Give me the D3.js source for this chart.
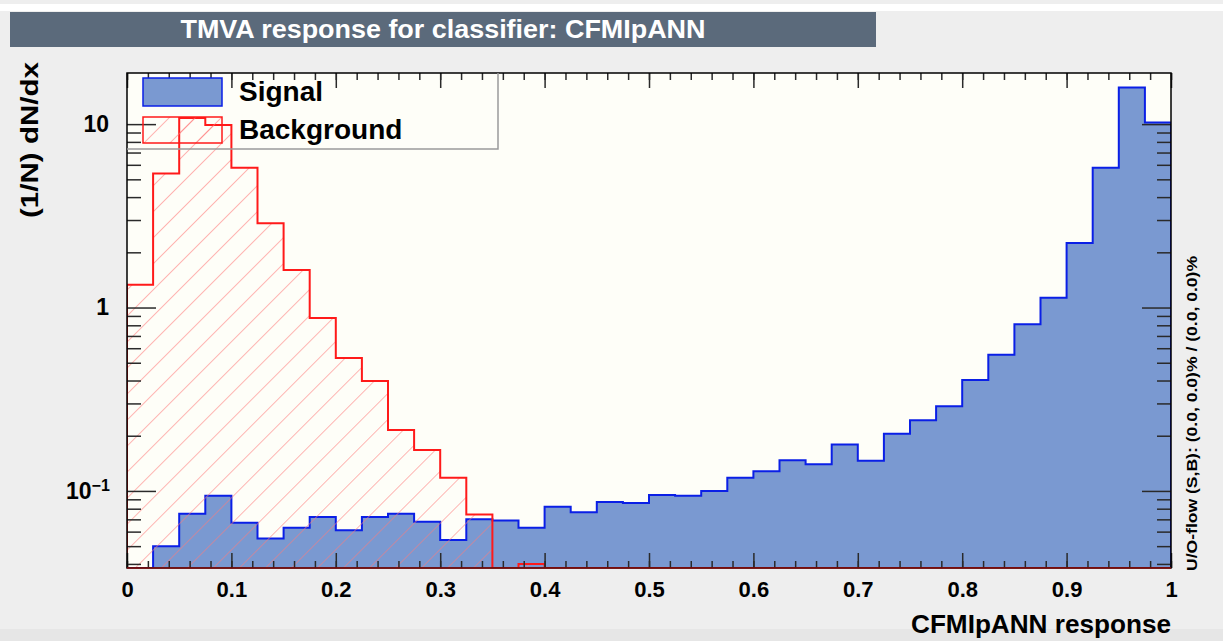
<!DOCTYPE html>
<html>
<head>
<meta charset="utf-8">
<script src="https://cdn.jsdelivr.net/npm/d3@7"></script>
<style>
  html, body { margin: 0; padding: 0; background: #eeeeee; }
  svg { display: block; font-family: "Liberation Sans", Arial, Helvetica, sans-serif; font-weight: bold; }
</style>
</head>
<body>
<div id="chart"></div>
<script>
// histogram: 40 bins over [0, 1]
const xRange = [0, 1]
const binCount = 40
const binWidth = 0.025

// (1/N) dN/dx per bin
const signal = [0, 0.050, 0.075, 0.094, 0.067, 0.055, 0.063, 0.072, 0.061, 0.072,
  0.075, 0.068, 0.054, 0.070, 0.069, 0.063, 0.082, 0.0765, 0.087, 0.086,
  0.095, 0.094, 0.100, 0.118, 0.128, 0.147, 0.140, 0.179, 0.146, 0.205,
  0.243, 0.290, 0.403, 0.553, 0.811, 1.13, 2.25, 5.78, 15.85, 10.2]
const background = [1.33, 5.38, 10.8, 9.88, 5.78, 2.88, 1.60, 0.877, 0.531, 0.398,
  0.215, 0.167, 0.118, 0.0743, 0, 0.0399, 0, 0, 0, 0,
  0, 0, 0, 0, 0, 0, 0, 0, 0, 0,
  0, 0, 0, 0, 0, 0, 0, 0, 0, 0]

const xMajor = [0, 0.1, 0.2, 0.3, 0.4, 0.5, 0.6, 0.7, 0.8, 0.9, 1]
const xMinor = d3.range(0, 51).map(i => i / 50)
const yMajor = [0.1, 1, 10]
const yMinor = [0.04, 0.05, 0.06, 0.07, 0.08, 0.09, 0.2, 0.3, 0.4, 0.5, 0.6, 0.7, 0.8, 0.9,
  2, 3, 4, 5, 6, 7, 8, 9]
const yDomain = [0.038, 19]

const title = 'TMVA response for classifier: CFMIpANN'
const xTitle = 'CFMIpANN response'
const yTitle = '(1/N) dN/dx'
const flowText = 'U/O-flow (S,B): (0.0, 0.0)% / (0.0, 0.0)%'
const legendItems = ['Signal', 'Background']

const width = 1223, height = 641
const frame = { left: 127, right: 1171, top: 73, bottom: 568 }

const svg = d3.select('#chart').append('svg')
  .attr('width', width)
  .attr('height', height)

// canvas
svg.append('rect').attr('x', 0).attr('y', 4).attr('width', width).attr('height', 7).attr('fill', '#ffffff')
svg.append('rect').attr('x', 0).attr('y', 629).attr('width', width).attr('height', 12).attr('fill', '#e6e6e6')

const defs = svg.append('defs')
defs.append('pattern')
    .attr('id', 'hatch')
    .attr('patternUnits', 'userSpaceOnUse')
    .attr('width', 18.4).attr('height', 18.4)
    .attr('patternTransform', 'rotate(45)')
  .append('line')
    .attr('x1', 0).attr('y1', 0).attr('x2', 0).attr('y2', 18.4)
    .attr('stroke', '#ff7a7a').attr('stroke-width', 1.1)
defs.append('clipPath').attr('id', 'plotClip')
  .append('rect')
    .attr('x', frame.left).attr('y', frame.top)
    .attr('width', frame.right - frame.left).attr('height', frame.bottom - frame.top)

// title box
svg.append('rect')
  .attr('x', 10).attr('y', 12).attr('width', 866).attr('height', 35)
  .attr('fill', '#5b6a7b')
svg.append('text')
  .attr('x', 443).attr('y', 38)
  .attr('text-anchor', 'middle')
  .attr('fill', '#ffffff')
  .attr('font-size', 25)
  .attr('textLength', 525).attr('lengthAdjust', 'spacingAndGlyphs')
  .text(title)

// scales
const x = d3.scaleLinear().domain(xRange).range([frame.left, frame.right])
const y = d3.scaleLog().domain(yDomain).range([frame.bottom, frame.top])

svg.append('rect')
  .attr('x', frame.left).attr('y', frame.top)
  .attr('width', frame.right - frame.left).attr('height', frame.bottom - frame.top)
  .attr('fill', '#fefef8')

// step outline of a histogram, empty bins sit on the bottom edge
function stepPath(values) {
  const yv = v => y(Math.max(v, yDomain[0]))
  let d = `M${x(xRange[0])},${y(yDomain[0])}`
  values.forEach((v, i) => {
    const x0 = x(i * binWidth), x1 = x((i + 1) * binWidth)
    d += `L${x0},${yv(v)}L${x1},${yv(v)}`
  })
  d += `L${x(binCount * binWidth)},${y(yDomain[0])}`
  return d
}

const plot = svg.append('g').attr('clip-path', 'url(#plotClip)')

plot.append('path')
  .attr('d', stepPath(signal) + 'Z')
  .attr('fill', '#7a99d1')
plot.append('path')
  .attr('d', stepPath(signal))
  .attr('fill', 'none')
  .attr('stroke', '#0a1fe6').attr('stroke-width', 2)

plot.append('path')
  .attr('d', stepPath(background) + 'Z')
  .attr('fill', 'url(#hatch)')
plot.append('path')
  .attr('d', stepPath(background))
  .attr('fill', 'none')
  .attr('stroke', '#ff1a1a').attr('stroke-width', 2)

// axes
const tickColor = '#2a2a2a'
function styleAxis(g) {
  g.attr('font-family', null).attr('font-size', null)
  g.select('.domain').remove()
  g.selectAll('.tick line').attr('stroke', tickColor).attr('stroke-width', 1.5)
  g.selectAll('.tick text').attr('fill', '#000')
}

svg.append('g')
  .attr('transform', `translate(0,${frame.bottom})`)
  .call(d3.axisBottom(x).tickValues(xMinor).tickSize(-7).tickFormat(''))
  .call(styleAxis)
svg.append('g')
  .attr('transform', `translate(0,${frame.bottom})`)
  .call(d3.axisBottom(x).tickValues(xMajor).tickSize(-15).tickPadding(13).tickFormat(d3.format('')))
  .call(styleAxis)
  .call(g => g.selectAll('.tick text').style('font-size', '22px'))
svg.append('g')
  .attr('transform', `translate(0,${frame.top})`)
  .call(d3.axisTop(x).tickValues(xMinor).tickSize(-7).tickFormat(''))
  .call(styleAxis)
svg.append('g')
  .attr('transform', `translate(0,${frame.top})`)
  .call(d3.axisTop(x).tickValues(xMajor).tickSize(-15).tickFormat(''))
  .call(styleAxis)

svg.append('g')
  .attr('transform', `translate(${frame.left},0)`)
  .call(d3.axisLeft(y).tickValues(yMinor).tickSize(-14).tickFormat(''))
  .call(styleAxis)
svg.append('g')
  .attr('transform', `translate(${frame.left},0)`)
  .call(d3.axisLeft(y).tickValues(yMajor).tickSize(-29).tickPadding(18).tickFormat(d => d < 1 ? '' : String(d)))
  .call(styleAxis)
  .call(g => g.selectAll('.tick text').style('font-size', '23px'))
  .call(g => g.selectAll('.tick').filter(d => d < 1).select('text')
    .call(t => {
      t.attr('x', -61).attr('text-anchor', 'start')
      t.append('tspan').text('10')
      t.append('tspan').attr('dy', '-0.5em').style('font-size', '16px').text('\u22121')
    }))
svg.append('g')
  .attr('transform', `translate(${frame.right},0)`)
  .call(d3.axisRight(y).tickValues(yMinor).tickSize(-14).tickFormat(''))
  .call(styleAxis)
svg.append('g')
  .attr('transform', `translate(${frame.right},0)`)
  .call(d3.axisRight(y).tickValues(yMajor).tickSize(-29).tickFormat(''))
  .call(styleAxis)

// frame
svg.append('rect')
  .attr('x', frame.left).attr('y', frame.top)
  .attr('width', frame.right - frame.left).attr('height', frame.bottom - frame.top)
  .attr('fill', 'none').attr('stroke', '#000').attr('stroke-width', 1.5)
svg.append('line')
  .attr('x1', frame.left).attr('x2', frame.right)
  .attr('y1', frame.bottom).attr('y2', frame.bottom)
  .attr('stroke', '#8a1010').attr('stroke-width', 1.5)

// axis titles
svg.append('text')
  .attr('x', frame.right).attr('y', 633)
  .attr('text-anchor', 'end')
  .attr('font-size', 26)
  .attr('textLength', 260).attr('lengthAdjust', 'spacingAndGlyphs')
  .text(xTitle)
svg.append('text')
  .attr('transform', 'translate(38,62) rotate(-90)')
  .attr('text-anchor', 'end')
  .attr('font-size', 24)
  .attr('textLength', 156).attr('lengthAdjust', 'spacingAndGlyphs')
  .text(yTitle)
svg.append('text')
  .attr('transform', 'translate(1197,571) rotate(-90)')
  .attr('text-anchor', 'start')
  .attr('font-size', 15)
  .attr('textLength', 315).attr('lengthAdjust', 'spacingAndGlyphs')
  .text(flowText)

// legend
const legend = svg.append('g')
legend.append('path')
  .attr('d', `M${frame.left},149H498V${frame.top}`)
  .attr('fill', 'none').attr('stroke', '#9a9a9a').attr('stroke-width', 1.5)
legend.append('rect')
  .attr('x', 143).attr('y', 78).attr('width', 79).attr('height', 28)
  .attr('fill', '#7a99d1').attr('stroke', '#0a1fe6').attr('stroke-width', 1.5)
legend.append('rect')
  .attr('x', 143).attr('y', 117).attr('width', 79).attr('height', 26)
  .attr('fill', 'url(#hatch)').attr('stroke', '#ff1a1a').attr('stroke-width', 1.5)
legend.selectAll('text.item')
  .data(legendItems)
  .join('text')
    .attr('class', 'item')
    .attr('x', 239)
    .attr('y', (d, i) => 101 + i * 38)
    .attr('font-size', 28)
    .text(d => d)
</script>
</body>
</html>
